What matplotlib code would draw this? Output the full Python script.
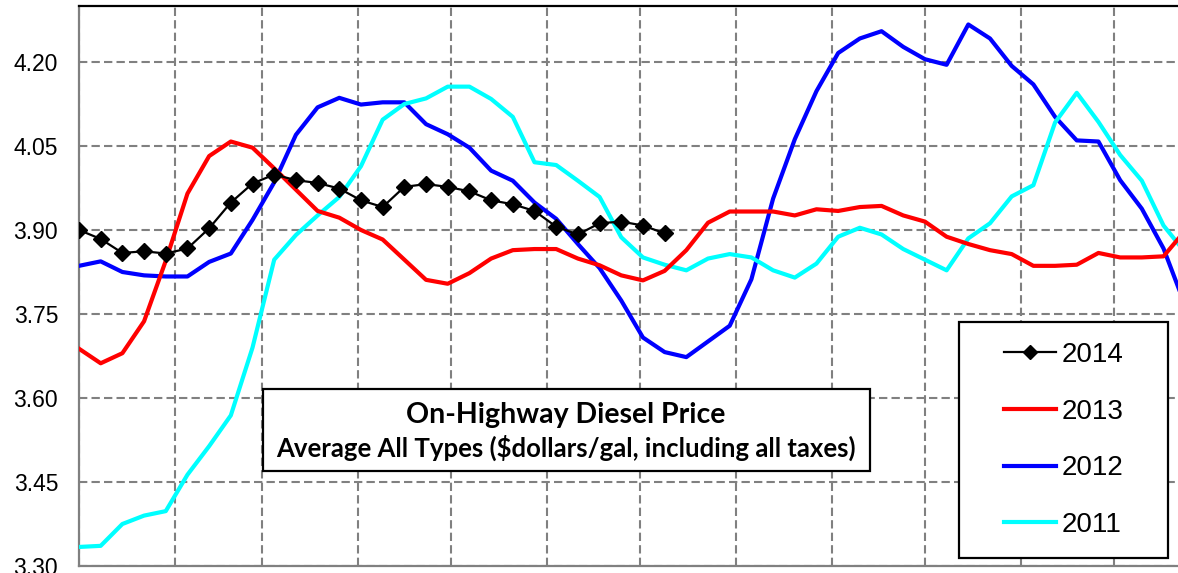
import matplotlib
matplotlib.use("Agg")
import matplotlib.pyplot as plt
from matplotlib.patches import Rectangle
from matplotlib.lines import Line2D

# weekly average on-highway diesel price, $/gal (week 1 .. week 52)
price_2014 = [3.900, 3.884, 3.859, 3.862, 3.858, 3.867, 3.903, 3.949, 3.983, 3.999,
              3.989, 3.984, 3.974, 3.953, 3.941, 3.977, 3.982, 3.977, 3.969, 3.953,
              3.946, 3.934, 3.906, 3.892, 3.912, 3.915, 3.908, 3.894]

price_2013 = [3.688, 3.662, 3.680, 3.737, 3.845, 3.965, 4.032, 4.058, 4.047, 4.010,
              3.972, 3.934, 3.922, 3.900, 3.883, 3.847, 3.811, 3.804, 3.823, 3.849,
              3.864, 3.866, 3.866, 3.849, 3.837, 3.819, 3.810, 3.827, 3.864, 3.913,
              3.933, 3.933, 3.933, 3.926, 3.937, 3.934, 3.941, 3.943, 3.926, 3.915,
              3.888, 3.875, 3.864, 3.857, 3.836, 3.836, 3.838, 3.859, 3.851, 3.851,
              3.853, 3.899]

price_2012 = [3.836, 3.844, 3.825, 3.819, 3.817, 3.817, 3.843, 3.858, 3.918, 3.985,
              4.070, 4.119, 4.136, 4.124, 4.128, 4.128, 4.089, 4.071, 4.047, 4.006,
              3.988, 3.949, 3.920, 3.875, 3.832, 3.774, 3.708, 3.682, 3.673, 3.701,
              3.729, 3.812, 3.956, 4.062, 4.148, 4.216, 4.242, 4.255, 4.227, 4.205,
              4.195, 4.267, 4.242, 4.193, 4.160, 4.102, 4.060, 4.058, 3.989, 3.938,
              3.867, 3.765]

price_2011 = [3.334, 3.336, 3.375, 3.390, 3.398, 3.463, 3.514, 3.569, 3.690, 3.847,
              3.891, 3.926, 3.959, 4.014, 4.097, 4.125, 4.135, 4.156, 4.156, 4.134,
              4.102, 4.021, 4.016, 3.988, 3.959, 3.887, 3.851, 3.838, 3.828, 3.849,
              3.857, 3.851, 3.828, 3.815, 3.840, 3.888, 3.904, 3.892, 3.866, 3.847,
              3.828, 3.885, 3.912, 3.960, 3.980, 4.092, 4.145, 4.093, 4.034, 3.988,
              3.908, 3.860]

years = ["2014", "2013", "2012", "2011"]
month_starts = [0, 31, 59, 90, 120, 151, 181, 212, 243, 273, 304, 334, 365]
y_ticks = [3.30, 3.45, 3.60, 3.75, 3.90, 4.05, 4.20]

W, H = 1178, 573
fig = plt.figure(figsize=(W / 100, H / 100), dpi=100)
# plot area runs a little past the right edge of the image
ax = fig.add_axes([79 / W, 7 / H, 1131 / W, 560 / H])

def days(series):
    return [7 * i for i in range(len(series))]

ax.plot(days(price_2012), price_2012, color="#0000FF", lw=3, zorder=3)
ax.plot(days(price_2011), price_2011, color="#00FFFF", lw=3, zorder=4)
ax.plot(days(price_2013), price_2013, color="#FF0000", lw=3, zorder=5)
ax.plot(days(price_2014), price_2014, color="black", lw=1.6, marker="D",
        ms=8, zorder=6)

ax.set_xlim(0, 365)
ax.set_ylim(3.30, 4.30)
ax.set_xticks(month_starts)
ax.set_xticklabels([])
ax.set_yticks(y_ticks)
ax.set_yticklabels(["%.2f" % v for v in y_ticks], fontsize=16.5,
                   family="Liberation Sans")
ax.tick_params(axis="both", length=0, pad=15)
ax.grid(True, color="#808080", lw=1.5, linestyle=(0, (4, 2)), zorder=1)
ax.set_axisbelow(True)

for side in ["left", "bottom"]:
    ax.spines[side].set_color("#808080")
    ax.spines[side].set_linewidth(1.6)
ax.spines["top"].set_color("black")
ax.spines["top"].set_linewidth(1.6)
ax.spines["right"].set_visible(False)

# title box
fig.add_artist(Rectangle((263 / W, (H - 471) / H), 607 / W, 82 / H,
                         transform=fig.transFigure, facecolor="white",
                         edgecolor="black", lw=1.6, zorder=4))
fig.text(566 / W, (H - 423.5) / H, "On-Highway Diesel Price", ha="center",
         va="baseline", fontsize=20.5, fontweight="bold", family="Lato", zorder=5)
fig.text(566 / W, (H - 456.5) / H,
         "Average All Types ($dollars/gal, including all taxes)", ha="center",
         va="baseline", fontsize=18.5, fontweight="bold", family="Lato", zorder=5)

# legend box
fig.add_artist(Rectangle((959 / W, (H - 558) / H), 209 / W, 236 / H,
                         transform=fig.transFigure, facecolor="white",
                         edgecolor="black", lw=1.6, zorder=4))
handles = [
    Line2D([], [], color="black", lw=1.6, marker="D", ms=7),
    Line2D([], [], color="#FF0000", lw=3),
    Line2D([], [], color="#0000FF", lw=3),
    Line2D([], [], color="#00FFFF", lw=3),
]
leg = fig.legend(handles, years, loc="center",
                 bbox_to_anchor=(1063.5 / W, (H - 440) / H),
                 frameon=False, handlelength=1.9, handletextpad=0.18,
                 labelspacing=1.1, prop={"family": "Liberation Sans", "size": 20})
leg.set_zorder(6)

fig.savefig("out.png", dpi=100)
